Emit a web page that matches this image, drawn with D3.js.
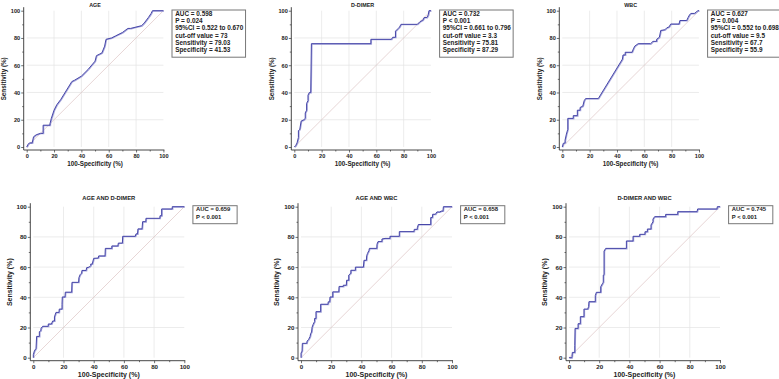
<!DOCTYPE html>
<html>
<head>
<meta charset="utf-8">
<script src="https://cdn.jsdelivr.net/npm/d3@7"></script>
<style>
  body { margin: 0; background: #fff; }
  svg text { font-family: "Liberation Sans", Arial, sans-serif; font-weight: bold; fill: #222; }
</style>
</head>
<body>
<div id="chart"></div>
<script>
// ROC points, 100-Specificity (%) and Sensitivity (%)
var ageX = [0, 1, 2, 4, 5, 7, 10, 12, 12, 17, 17, 18, 20, 22, 25, 33, 35, 40, 45, 50, 51, 53, 55, 57, 58, 62, 65, 70, 74, 76, 80, 84, 86, 89, 91, 92, 100];
var ageY = [0, 2, 3, 3, 7.5, 9, 10, 10, 16, 16, 17, 21, 27, 31, 35, 48, 49, 52, 57, 63, 67, 68, 69, 74, 79, 80, 81.5, 84, 87, 87, 88, 89, 91, 95, 98, 100, 100];

var ddX = [0, 1, 2, 3, 3, 4, 5, 7, 8, 8, 9, 9, 10, 10, 11, 12, 12.5, 56, 56, 71, 72, 74, 74, 76, 77, 78, 90, 92, 94, 95, 97, 98, 98.5, 100];
var ddY = [0, 1, 3, 7, 12, 13, 19, 20, 21, 25, 27, 32, 34, 38, 40, 40, 75.8, 75.8, 79, 79, 80.5, 80.5, 85, 87, 88, 90, 90, 92, 93, 95, 95, 97, 100, 100];

var wbcX = [0, 0.7, 2, 2, 3, 4, 4, 8, 8, 11, 11, 13, 13, 15, 16, 17, 26.3, 44, 44.4, 46, 46, 51, 52, 53, 55.5, 64.6, 66.3, 69, 69, 71, 72, 75, 76.5, 78, 79.3, 85.4, 86, 91, 92, 93, 94, 96.6, 98, 99, 100];
var wbcY = [0, 2.7, 3, 5, 9.5, 13, 21, 21, 23, 23, 27, 27, 29, 30, 34, 35.5, 35.5, 64.5, 67.5, 67.5, 69.5, 69.5, 72, 74, 75.8, 75.8, 77.5, 77.5, 79, 80.5, 85.5, 86, 87.5, 88, 90.2, 90.2, 92.8, 92.8, 95, 96.8, 98, 98, 99, 100, 100];

var agedX = [0, 0, 0.7, 1.8, 2.2, 4, 4, 5, 5.1, 6.2, 9.9, 9.9, 12, 12.8, 14, 14, 15, 17, 17.2, 19, 19, 19.2, 21, 21.2, 25.4, 25.6, 30, 30.2, 31, 32, 32.2, 35, 35.3, 37, 38, 38, 39, 40, 43, 43.3, 47.5, 47.7, 52, 52, 56, 56.3, 59, 59.2, 67.5, 68, 69, 69.3, 72, 72.4, 74.5, 74.6, 83.8, 83.9, 85, 85, 92, 92, 100];
var agedY = [0, 2, 4.4, 6.2, 14.1, 14.1, 17.2, 18, 19.4, 20.8, 20.8, 22.3, 22.3, 24.3, 24.3, 27, 30, 30, 32.2, 32.2, 35.3, 40.2, 40.2, 43.4, 43.4, 49.9, 49.9, 53, 55, 56, 57.8, 57.8, 59.6, 60, 61, 62, 62, 65.8, 66, 67.4, 67.4, 72.4, 72.4, 74, 74, 75.9, 75.9, 80.4, 80.4, 82, 82, 85.3, 85.3, 90.1, 90.1, 92.3, 92.3, 94, 94, 98.5, 98.5, 100, 100];

var agewX = [0, 0, 0.7, 0.9, 3.8, 4, 5, 6, 6.4, 7, 7.3, 8, 9, 9, 9.9, 9.9, 13, 13, 17.9, 18, 19, 19.2, 21, 21, 25, 25.2, 28, 28, 30, 30.2, 31.6, 31.6, 33, 33, 36, 36, 41.3, 41.7, 43.3, 43.5, 44, 45, 45.3, 50.2, 50.3, 51, 53.6, 53.6, 55.6, 58.9, 58.9, 65.1, 65.1, 74.8, 75, 77, 77, 77.7, 85.9, 85.9, 87, 87.2, 89, 90, 92, 92.7, 94, 94.3, 100];
var agewY = [0, 3, 4.4, 9.5, 9.5, 11, 12, 14, 16, 17, 20, 22, 24, 26, 26, 30.5, 30.5, 35.4, 35.4, 37, 37, 40.2, 40.2, 43.6, 43.6, 47.2, 47.2, 48, 48, 51.3, 51.3, 54.7, 56, 57.9, 57.9, 60, 60, 64.5, 64.5, 67.5, 69, 71, 72.4, 72.4, 75.1, 76.9, 76.9, 78.6, 79, 79, 80.4, 80.4, 83.5, 83.5, 85, 85, 86, 88.2, 88.2, 92.8, 92.8, 95, 95, 96.5, 96.5, 97.1, 97.1, 100, 100];

var dwX = [0, 1.8, 2, 2.2, 3.8, 3.8, 4, 6, 6, 7.5, 7.5, 9.9, 9.9, 12.4, 13, 13.2, 17.4, 17.4, 18.1, 21, 21, 22.1, 22.7, 22.7, 23.2, 23.2, 24.3, 38, 38, 42.4, 42.4, 46.8, 46.8, 50.3, 50.3, 51.9, 51.9, 54.3, 54.3, 55.6, 55.6, 56.7, 64, 64, 72, 72, 84.8, 85.2, 98, 98.2, 100];
var dwY = [0, 0, 1, 3.5, 3.5, 7.9, 19.4, 19.4, 22.5, 22.5, 27.2, 27.2, 32.2, 32.2, 34, 37.1, 37.1, 41.1, 43.3, 43.3, 47, 49, 50, 54.7, 55, 70.6, 72.4, 72.4, 77.3, 77.3, 80.4, 80.4, 81.7, 81.7, 83.4, 83.4, 85.2, 85.2, 87.9, 90, 91.8, 93.4, 93.4, 94.9, 94.9, 96.7, 96.7, 98.5, 98.5, 100, 100];

var titles = ["AGE", "D-DIMER", "WBC", "AGE AND D-DIMER", "AGE AND WBC", "D-DIMER AND WBC"];
var statLines = [
  ["AUC = 0.598", "P = 0.024", "95%CI = 0.522 to 0.670", "cut-off value = 73", "Sensitivity = 79.03", "Specificity = 41.53"],
  ["AUC = 0.732", "P < 0.001", "95%CI = 0.661 to 0.796", "cut-off value = 3.3", "Sensitivity = 75.81", "Specificity = 87.29"],
  ["AUC = 0.627", "P = 0.004", "95%CI = 0.552 to 0.698", "cut-off value = 9.5", "Sensitivity = 67.7", "Specificity = 55.9"],
  ["AUC = 0.659", "P < 0.001"],
  ["AUC = 0.658", "P < 0.001"],
  ["AUC = 0.745", "P < 0.001"]
];
var xs = [ageX, ddX, wbcX, agedX, agewX, dwX];
var ys = [ageY, ddY, wbcY, agedY, agewY, dwY];
var ticks = [0, 20, 40, 60, 80, 100];

var W = 779, H = 379;
var svg = d3.select('#chart').append('svg')
  .attr('width', W).attr('height', H);

// plot boxes: left, top, width, height, title baseline, font sizes
var boxes = [
  { l: 26.7, t: 10.7, w: 136.7, h: 136.3, ty: 6.6, tick: 5.6, lab: 6.3, ttl: 5.4, leg: 6.4 },
  { l: 294.3, t: 10.7, w: 136.7, h: 136.3, ty: 6.6, tick: 5.6, lab: 6.3, ttl: 5.4, leg: 6.4 },
  { l: 562.3, t: 10.7, w: 136.7, h: 136.3, ty: 6.6, tick: 5.6, lab: 6.3, ttl: 5.4, leg: 6.4 },
  { l: 33.3, t: 206.7, w: 151, h: 151, ty: 200.3, tick: 6.2, lab: 7, ttl: 5.8, leg: 5.9 },
  { l: 301, t: 206.7, w: 151, h: 151, ty: 200.3, tick: 6.2, lab: 7, ttl: 5.8, leg: 5.9 },
  { l: 569, t: 206.7, w: 151, h: 151, ty: 200.3, tick: 6.2, lab: 7, ttl: 5.8, leg: 5.9 }
];

boxes.forEach(function(b, i) {
  var g = svg.append('g').attr('transform', 'translate(' + b.l + ',' + b.t + ')');
  var x = d3.scaleLinear().domain([0, 100]).range([0, b.w]);
  var y = d3.scaleLinear().domain([0, 100]).range([b.h, 0]);
  var off = 3;

  // grid
  g.append('g').selectAll('line.gx')
    .data(ticks.slice(1, 5)).enter().append('line')
    .attr('x1', d => x(d)).attr('x2', d => x(d))
    .attr('y1', 0).attr('y2', b.h)
    .attr('stroke', '#e4e4e4').attr('stroke-width', 0.7);
  g.append('g').selectAll('line.gy')
    .data(ticks.slice(1, 5)).enter().append('line')
    .attr('x1', 0).attr('x2', b.w)
    .attr('y1', d => y(d)).attr('y2', d => y(d))
    .attr('stroke', '#e4e4e4').attr('stroke-width', 0.7);

  // reference diagonal
  g.append('line')
    .attr('x1', x(0)).attr('y1', y(0)).attr('x2', x(100)).attr('y2', y(100))
    .attr('stroke', '#dcc4c4').attr('stroke-width', 0.7);

  // axes
  var ax = g.append('g').attr('transform', 'translate(0,' + (b.h + off) + ')')
    .call(d3.axisBottom(x).tickValues(ticks).tickSize(2.5).tickSizeOuter(0));
  var ay = g.append('g').attr('transform', 'translate(' + (-off) + ',0)')
    .call(d3.axisLeft(y).tickValues(ticks).tickSize(2.5).tickSizeOuter(0));
  g.append('g').attr('transform', 'translate(0,' + (b.h + off) + ')')
    .call(d3.axisBottom(x).tickValues(d3.range(10, 100, 20)).tickSize(1.5).tickFormat(''))
    .select('.domain').remove();
  g.append('g').attr('transform', 'translate(' + (-off) + ',0)')
    .call(d3.axisLeft(y).tickValues(d3.range(10, 100, 20)).tickSize(1.5).tickFormat(''))
    .select('.domain').remove();
  [ax, ay].forEach(function(a) {
    a.select('.domain').remove();
    a.selectAll('text').style('font-size', b.tick + 'px')
      .style('font-family', '"Liberation Sans", Arial, sans-serif').style('font-weight', 'bold');
  });
  ax.selectAll('text').attr('dy', '0.75em').attr('y', 3.5);
  ay.selectAll('text').attr('x', -3.5);
  g.selectAll('.tick line').attr('stroke', '#333').attr('stroke-width', 0.7);

  // spines
  g.append('line').attr('x1', -off).attr('x2', -off).attr('y1', -3.5).attr('y2', b.h + off)
    .attr('stroke', '#333').attr('stroke-width', 0.9);
  g.append('line').attr('x1', -off).attr('x2', b.w + 1).attr('y1', b.h + off).attr('y2', b.h + off)
    .attr('stroke', '#333').attr('stroke-width', 0.9);

  // ROC curve
  var pts = xs[i].map((v, k) => [v, ys[i][k]]);
  var line = d3.line().x(d => x(d[0])).y(d => y(d[1]));
  g.append('path').datum(pts).attr('d', line)
    .attr('transform', 'translate(0.6,0.4)')
    .attr('fill', 'none').attr('stroke', '#a7a7dc').attr('stroke-width', 1.2);
  g.append('path').datum(pts).attr('d', line)
    .attr('fill', 'none').attr('stroke', '#4646a8').attr('stroke-width', 1);

  // titles (absolute) and axis labels
  svg.append('text').attr('x', b.l + b.w / 2).attr('y', b.ty)
    .attr('text-anchor', 'middle').style('font-size', b.ttl + 'px').text(titles[i]);
  g.append('text').attr('x', b.w / 2).attr('y', b.h + (i < 3 ? 19.4 : 19.8))
    .attr('text-anchor', 'middle').style('font-size', b.lab + 'px').text('100-Specificity (%)');
  g.append('text').attr('transform', 'translate(' + (i < 3 ? -20.8 : -21.8) + ',' + (b.h / 2) + ') rotate(-90)')
    .attr('text-anchor', 'middle').style('font-size', b.lab + 'px').text('Sensitivity (%)');

  // stats box
  var lg = g.append('g').attr('transform', 'translate(' + (b.w + 8.6) + ',' + (i < 3 ? -0.7 : -1) + ')');
  var rect = lg.append('rect').attr('fill', '#fff').attr('stroke', '#777').attr('stroke-width', 1);
  var lh = 7.3, maxw = 0;
  statLines[i].forEach(function(s, k) {
    var t = lg.append('text').attr('x', 3.2).attr('y', 5.6 + k * lh)
      .style('font-size', b.leg + 'px').text(s);
    maxw = Math.max(maxw, t.node().getComputedTextLength());
  });
  rect.attr('x', 0).attr('y', 0).attr('width', maxw + (i < 3 ? 5.5 : 10))
    .attr('height', statLines[i].length * lh + 3.4);
});
</script>
</body>
</html>
